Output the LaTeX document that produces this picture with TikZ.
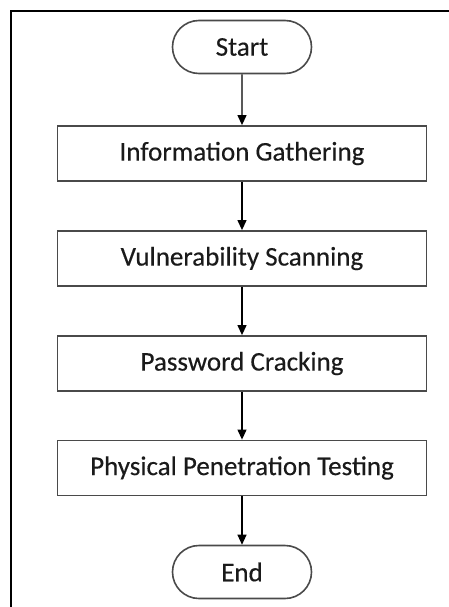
\documentclass[tikz,border=0pt]{standalone}
\usepackage{fontspec}
\setmainfont{Carlito}
\newfontfamily\labelfont{Carlito}[FakeBold=0.35]
\usetikzlibrary{shapes.misc,arrows.meta}
\definecolor{boxline}{HTML}{4A4A4A}
\definecolor{inkcol}{HTML}{1A1A1A}
\begin{document}
\begin{tikzpicture}[x=1pt,y=-1pt,
  every node/.style={font=\labelfont\fontsize{27}{32}\selectfont, text=inkcol},
  terminal/.style={rounded rectangle, draw=boxline, line width=1.6pt,
    minimum width=139pt, minimum height=53pt, inner sep=0pt},
  stepbox/.style={rectangle, draw=boxline, line width=1.8pt,
    minimum width=369pt, minimum height=55pt, inner sep=0pt},
  flow/.style={draw=black, line width=1.2pt,
    -{Triangle[length=10pt,width=9pt]}}]
  \useasboundingbox (0,0) rectangle (449,607);
  % frame around the chart (left and top edges)
  \draw[line width=2.8pt, black] (11,607) -- (11,11) -- (449,11);

  \node[terminal] (start) at (242,47) {Start};
  \node[stepbox] (info) at (242,153.5) {Information Gathering};
  \node[stepbox] (vuln) at (242,258.5) {Vulnerability Scanning};
  \node[stepbox] (pass) at (242,363.5) {Password Cracking};
  \node[stepbox] (phys) at (242,468) {Physical Penetration Testing};
  \node[terminal] (end) at (242,572) {End};

  \draw[flow] (start) -- (info);
  \draw[flow] (info) -- (vuln);
  \draw[flow] (vuln) -- (pass);
  \draw[flow] (pass) -- (phys);
  \draw[flow] (phys) -- (end);
\end{tikzpicture}
\end{document}
